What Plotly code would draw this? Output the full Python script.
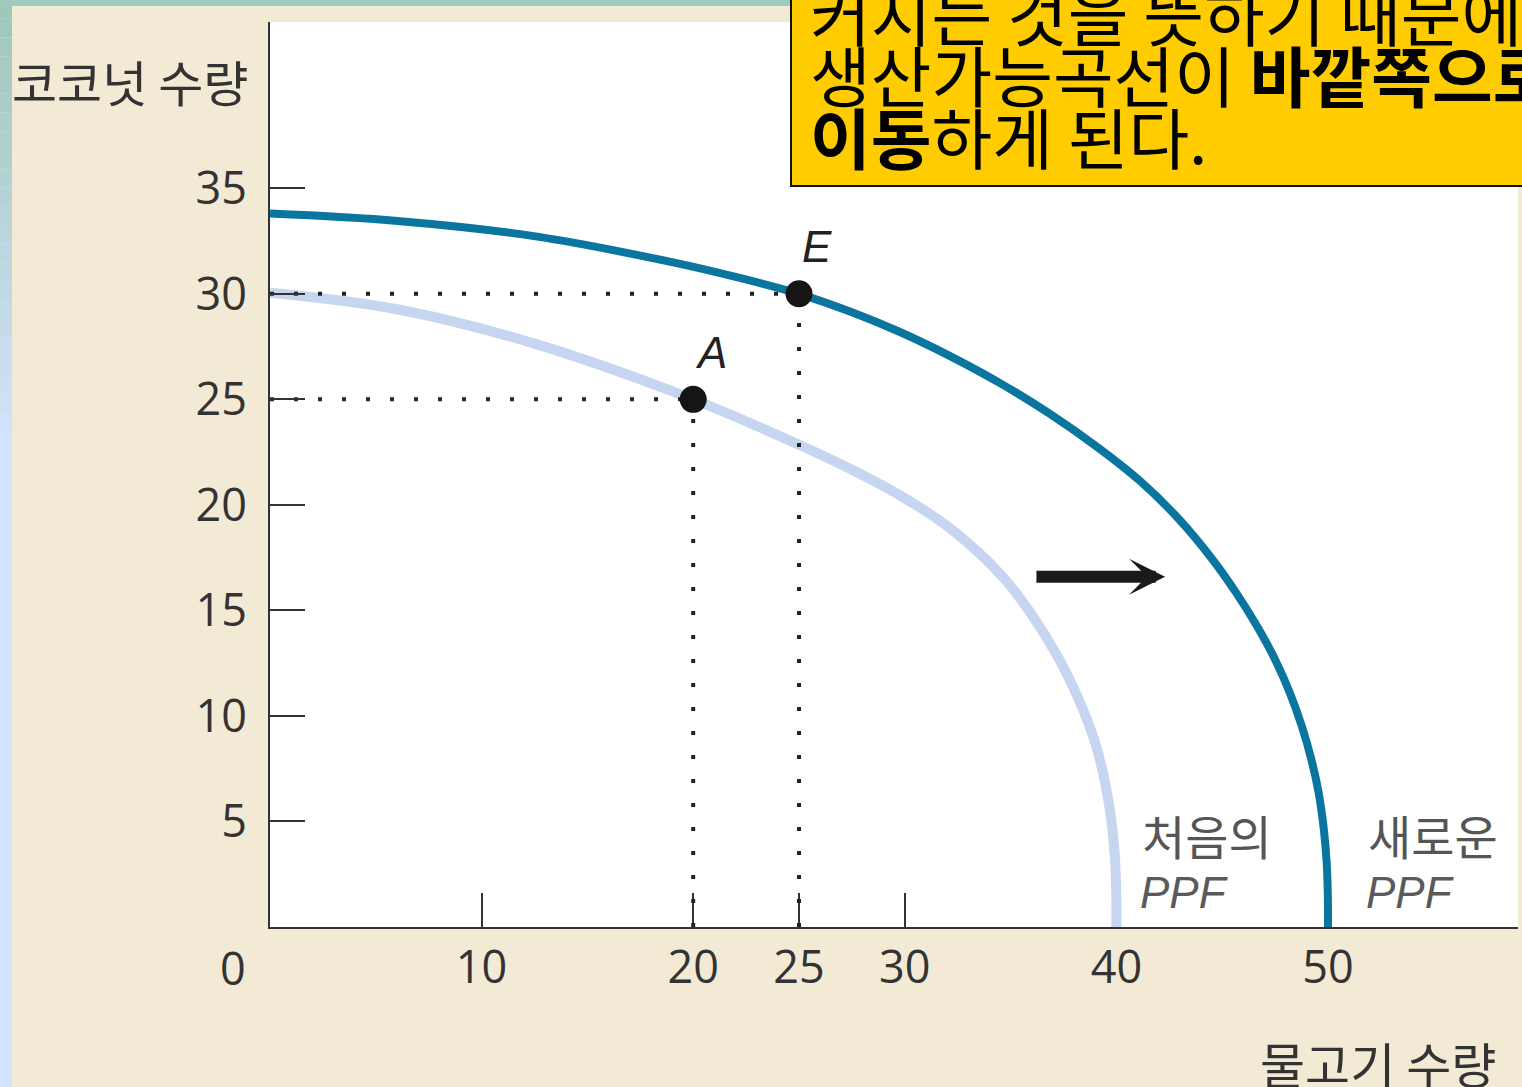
import plotly.graph_objects as go

# ---------------- data ----------------
new_ppf_x = [0, 6.03, 12.55, 19.05, 22.05, 25, 27.41, 29.77, 32.14, 34.50, 36.86, 39.22, 41.12,
             42.95, 44.56, 45.67, 46.67, 47.51, 48.20, 48.76, 49.22, 49.56, 49.79, 49.93, 49.99, 50]
new_ppf_y = [33.80, 33.45, 32.72, 31.49, 30.79, 30, 29.16, 28.19, 27.05, 25.77, 24.31, 22.65, 21.13,
             19.33, 17.39, 15.82, 14.21, 12.65, 11.09, 9.52, 7.91, 6.35, 4.74, 3.17, 1.61, 0]

old_ppf_x = [0, 6.0, 12.5, 20, 25, 27.41, 29.77, 32.14, 34.64, 36.01, 37.24, 38.23, 38.94, 39.41,
             39.74, 39.93, 39.995, 40]
old_ppf_y = [30.05, 29.27, 27.64, 25, 22.85, 21.71, 20.45, 18.89, 16.58, 14.78, 12.79, 10.76, 8.91, 7.11,
             5.21, 3.32, 1.47, 0]

point_names = ["A", "E"]
point_x = [20, 25]
point_y = [25, 30]

x_tick_vals = [10, 20, 25, 30, 40, 50]
y_tick_vals = [5, 10, 15, 20, 25, 30, 35]

arrow_from = (36.15, 16.6)
arrow_to = (42.3, 16.6)

y_title = "코코넛 수량"
x_title = "물고기 수량"
old_label = "처음의"
new_label = "새로운"
box_lines = [
    "커지는 것을 뜻하기 때문에",
    "생산가능곡선이 <b>바깥쪽으로</b>",
    "<b>이동</b>하게 된다.",
]

# ---------------- layout geometry ----------------
W, H = 1522, 1087
L, R, T, B = 270, 4, 22, 160
PW, PH = W - L - R, H - T - B
X_MAX = PW / 21.16
Y_MAX = PH / 21.106


def pxx(p):
    return (p - L) / PW


def pxy(p):
    return (H - B - p) / PH


BEIGE = "#f3ead6"
DARK = "#0a76a0"
LIGHT = "#c6d6f0"
INK = "#333333"
KFONT = "Noto Sans CJK KR"
NFONT = "Open Sans"

fig = go.Figure()

fig.add_trace(go.Scatter(x=old_ppf_x, y=old_ppf_y, mode="lines",
                         line=dict(color=LIGHT, width=10, shape="spline", smoothing=1.0),
                         hoverinfo="skip", showlegend=False))
fig.add_trace(go.Scatter(x=new_ppf_x, y=new_ppf_y, mode="lines",
                         line=dict(color=DARK, width=8, shape="spline", smoothing=1.0),
                         hoverinfo="skip", showlegend=False))

for px_, py_ in zip(point_x, point_y):
    fig.add_trace(go.Scatter(x=[0, px_], y=[py_, py_], mode="lines",
                             line=dict(color="#222222", width=4, dash="4px,20px"),
                             hoverinfo="skip", showlegend=False))
    fig.add_trace(go.Scatter(x=[px_, px_], y=[0, py_], mode="lines",
                             line=dict(color="#222222", width=4, dash="4px,20px"),
                             hoverinfo="skip", showlegend=False))

fig.add_trace(go.Scatter(x=point_x, y=point_y, mode="markers",
                         marker=dict(color="#151515", size=27),
                         hoverinfo="skip", showlegend=False))

annotations = []
# point labels
for name, px_, py_ in zip(point_names, point_x, point_y):
    annotations.append(dict(x=px_, y=py_, xref="x", yref="y", text=name, showarrow=False,
                            xshift=18, yshift=47,
                            font=dict(family="Liberation Sans", size=44, color="#222222", style="italic")))

# arrow
annotations.append(dict(x=arrow_to[0], y=arrow_to[1], ax=arrow_from[0], ay=arrow_from[1],
                        xref="x", yref="y", axref="x", ayref="y", text="", showarrow=True,
                        arrowhead=3, arrowwidth=12, arrowsize=0.5, arrowcolor="#1a1a1a", standoff=0))

# axis titles
annotations.append(dict(x=pxx(250), y=pxy(80), xref="paper", yref="paper", text=y_title,
                        showarrow=False, xanchor="right", yanchor="middle",
                        font=dict(family=KFONT, size=49, color=INK)))
annotations.append(dict(x=pxx(1498), y=pxy(1062), xref="paper", yref="paper", text=x_title,
                        showarrow=False, xanchor="right", yanchor="middle",
                        font=dict(family=KFONT, size=49, color=INK)))
annotations.append(dict(x=pxx(233), y=pxy(968), xref="paper", yref="paper", text="0",
                        showarrow=False, xanchor="center", yanchor="middle",
                        font=dict(family=NFONT, size=45, color=INK)))

# curve labels
for lbl, xleft in [(old_label, 1140), (new_label, 1366)]:
    annotations.append(dict(x=pxx(xleft), y=pxy(834), xref="paper", yref="paper", text=lbl,
                            showarrow=False, xanchor="left", yanchor="middle",
                            font=dict(family=KFONT, size=47, color="#555555")))
    annotations.append(dict(x=pxx(xleft - 2), y=pxy(892), xref="paper", yref="paper", text="PPF",
                            showarrow=False, xanchor="left", yanchor="middle",
                            font=dict(family="Liberation Sans", size=44, color="#5a5a5a", style="italic")))

# yellow box text
for txt, yc in zip(box_lines, [12, 73, 135]):
    annotations.append(dict(x=pxx(808), y=pxy(yc), xref="paper", yref="paper", text=txt,
                            showarrow=False, xanchor="left", yanchor="middle",
                            font=dict(family=KFONT, size=66, color="#000000")))

shapes = []
# left gradient strip
top_c = (158, 200, 186)
bot_c = (212, 227, 252)
n = 24
for i in range(n):
    t = i / (n - 1)
    c = tuple(int(top_c[k] + (bot_c[k] - top_c[k]) * t) for k in range(3))
    y0 = i * 450 / n
    y1 = (i + 1) * 450 / n if i < n - 1 else H + 5
    shapes.append(dict(type="rect", xref="paper", yref="paper",
                       x0=pxx(-5), x1=pxx(12), y0=pxy(y1), y1=pxy(y0),
                       fillcolor="rgb(%d,%d,%d)" % c, line=dict(width=0), layer="below"))
# top strip
shapes.append(dict(type="rect", xref="paper", yref="paper",
                   x0=pxx(-5), x1=pxx(800), y0=pxy(6), y1=pxy(-5),
                   fillcolor="rgb(160,202,190)", line=dict(width=0), layer="below"))
# yellow box
shapes.append(dict(type="rect", xref="paper", yref="paper",
                   x0=pxx(791), x1=pxx(1540), y0=pxy(186), y1=pxy(-20),
                   fillcolor="#ffcc00", line=dict(color="#111111", width=2), layer="above"))

fig.update_layout(
    width=W, height=H,
    margin=dict(l=L, r=R, t=T, b=B),
    paper_bgcolor=BEIGE, plot_bgcolor="white",
    showlegend=False,
    annotations=annotations,
    shapes=shapes,
    xaxis=dict(range=[0, X_MAX], showgrid=False, zeroline=False,
               showline=True, linecolor=INK, linewidth=2,
               ticks="inside", ticklen=34, tickwidth=2, tickcolor=INK,
               tickvals=x_tick_vals, ticktext=[str(v) for v in x_tick_vals],
               tickfont=dict(family=NFONT, size=45, color=INK),
               ticklabelstandoff=0, layer="below traces"),
    yaxis=dict(range=[0, Y_MAX], showgrid=False, zeroline=False,
               showline=True, linecolor=INK, linewidth=2,
               ticks="inside", ticklen=35, tickwidth=2, tickcolor=INK,
               tickvals=y_tick_vals, ticktext=[str(v) for v in y_tick_vals],
               tickfont=dict(family=NFONT, size=45, color=INK),
               ticklabelstandoff=12, layer="above traces"),
)

fig.write_html("out.html",
               config={"displayModeBar": False, "staticPlot": True},
               post_script="document.body.style.margin='0px';document.body.style.overflow='hidden';")
